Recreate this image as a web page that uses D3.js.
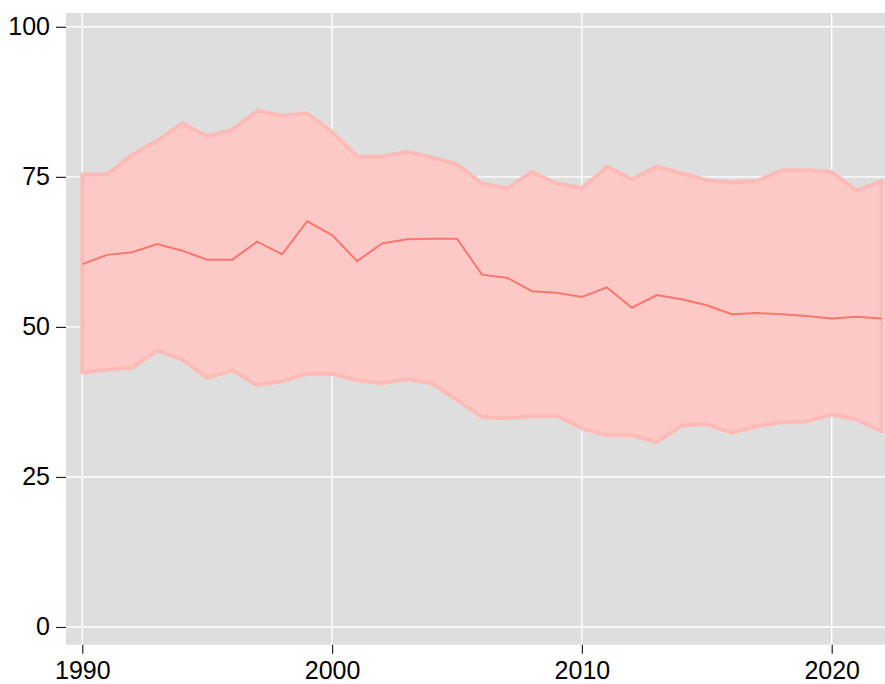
<!DOCTYPE html>
<html>
<head>
<meta charset="utf-8">
<script src="https://cdn.jsdelivr.net/npm/d3@7"></script>
<style>
  html, body { margin: 0; padding: 0; background: #ffffff; }
  svg { display: block; }
  text { font-family: "Liberation Sans", Arial, sans-serif; }
</style>
</head>
<body>
<svg id="chart" width="885" height="684"></svg>
<script>
const years = d3.range(1990, 2023);
const upper = [75.4, 75.4, 78.7, 81.0, 83.9, 81.8, 82.8, 86.0, 85.2, 85.6, 82.5,
               78.4, 78.4, 79.2, 78.2, 77.1, 73.9, 73.1, 75.8, 73.9, 73.1,
               76.7, 74.6, 76.7, 75.6, 74.45, 74.05, 74.3, 76.1, 76.1, 75.8, 72.7, 74.3];
const middle = [60.45, 62.0, 62.45, 63.8, 62.7, 61.2, 61.2, 64.2, 62.1, 67.6, 65.3,
                60.95, 63.9, 64.6, 64.7, 64.7, 58.7, 58.2, 55.95, 55.7, 55.0,
                56.6, 53.2, 55.3, 54.6, 53.6, 52.1, 52.3, 52.1, 51.8, 51.4, 51.7, 51.4];
const lower = [42.4, 42.9, 43.2, 46.1, 44.6, 41.5, 42.8, 40.3, 40.95, 42.2, 42.2,
               41.1, 40.6, 41.3, 40.6, 37.8, 35.0, 34.8, 35.1, 35.2, 33.1,
               31.95, 31.95, 30.8, 33.6, 33.8, 32.4, 33.45, 34.1, 34.3, 35.4, 34.6, 32.6];
const xTicks = [1990, 2000, 2010, 2020];
const yTicks = [0, 25, 50, 75, 100];

const data = years.map((yr, i) => ({ year: yr, lo: lower[i], mid: middle[i], hi: upper[i] }));

const svg = d3.select("#chart");
const panel = { left: 66, top: 13, right: 885, bottom: 644.7 };

const x = d3.scaleLinear().domain([1989.347, 2022.133]).range([panel.left, panel.right]);
const y = d3.scaleLinear().domain([-2.95, 102.3]).range([panel.bottom, panel.top]);

// panel background
svg.append("rect")
  .attr("x", panel.left).attr("y", panel.top)
  .attr("width", panel.right - panel.left).attr("height", panel.bottom - panel.top)
  .attr("fill", "#dedede");

svg.append("clipPath").attr("id", "clip")
  .append("rect")
  .attr("x", panel.left).attr("y", panel.top)
  .attr("width", panel.right - panel.left).attr("height", panel.bottom - panel.top);

// grid
const grid = svg.append("g");
grid.selectAll(".gx").data(xTicks).enter().append("line")
  .attr("x1", d => x(d)).attr("x2", d => x(d))
  .attr("y1", panel.top).attr("y2", panel.bottom)
  .attr("stroke", "#ffffff").attr("stroke-width", 1.4);
grid.selectAll(".gy").data(yTicks).enter().append("line")
  .attr("x1", panel.left).attr("x2", panel.right)
  .attr("y1", d => y(d)).attr("y2", d => y(d))
  .attr("stroke", "#ffffff").attr("stroke-width", 1.4);

const plot = svg.append("g").attr("clip-path", "url(#clip)");

// ribbon (closed polygon with outline)
const pts = data.map(d => [x(d.year), y(d.hi)])
  .concat(data.slice().reverse().map(d => [x(d.year), y(d.lo)]));
plot.append("path")
  .attr("d", d3.line()(pts) + "Z")
  .attr("fill", "#fdc9c7")
  .attr("stroke", "#fdbbb7")
  .attr("stroke-width", 4)
  .attr("stroke-linejoin", "round");

// centre line
plot.append("path")
  .datum(data)
  .attr("d", d3.line().x(d => x(d.year)).y(d => y(d.mid)))
  .attr("fill", "none")
  .attr("stroke", "#f8766d")
  .attr("stroke-width", 2);

// y axis
const yAxis = svg.append("g")
  .attr("transform", `translate(${panel.left},0)`)
  .call(d3.axisLeft(y).tickValues(yTicks).tickSize(10).tickPadding(6));
yAxis.select(".domain").remove();
yAxis.selectAll(".tick line").attr("stroke", "#222").attr("stroke-width", 1.2);
yAxis.selectAll(".tick text")
  .attr("fill", "#000").attr("font-size", 25)
  .attr("font-family", "Liberation Sans, Arial, sans-serif");

// x axis
const xAxis = svg.append("g")
  .attr("transform", `translate(0,${panel.bottom})`)
  .call(d3.axisBottom(x).tickValues(xTicks).tickFormat(d3.format("d")).tickSize(9).tickPadding(8));
xAxis.select(".domain").remove();
xAxis.selectAll(".tick line").attr("stroke", "#222").attr("stroke-width", 1.2);
xAxis.selectAll(".tick text")
  .attr("fill", "#000").attr("font-size", 25)
  .attr("font-family", "Liberation Sans, Arial, sans-serif");
</script>
</body>
</html>
